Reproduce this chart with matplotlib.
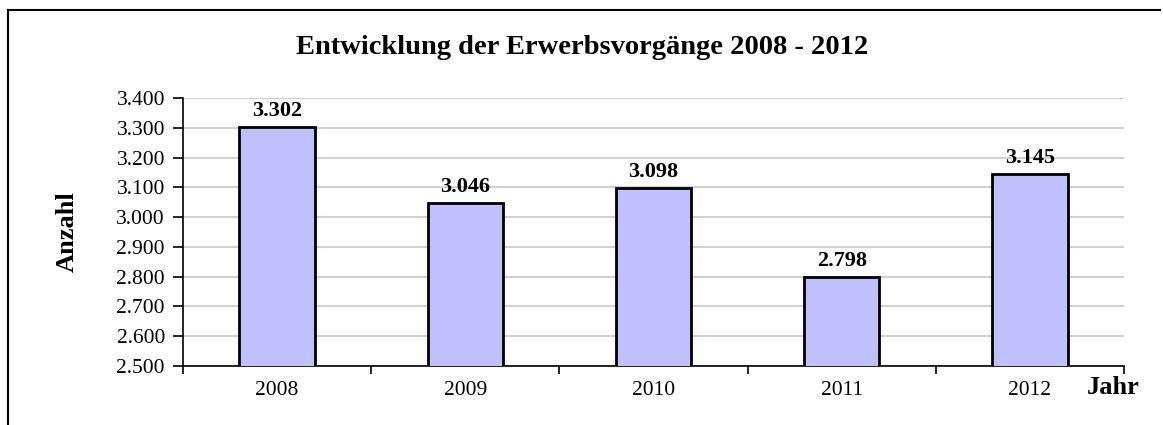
import matplotlib.pyplot as plt
import numpy as np

years = ['2008', '2009', '2010', '2011', '2012']
counts = [3302, 3046, 3098, 2798, 3145]
y_ticks = [2500, 2600, 2700, 2800, 2900, 3000, 3100, 3200, 3300, 3400]


def de_fmt(v):
    # German thousands separator
    return f"{v:,}".replace(',', '.')


plt.rcParams['font.family'] = ['Liberation Serif', 'DejaVu Serif']

fig = plt.figure(figsize=(11.63, 4.25), dpi=100)
ax = fig.add_axes([183 / 1163, 59 / 425, 941 / 1163, 268 / 425])

x = np.arange(len(years))
ax.bar(x, counts, width=0.4, bottom=0, color='#c0c0ff',
       edgecolor='black', linewidth=2, zorder=3)

for xi, v in zip(x, counts):
    ax.text(xi, v + 20, de_fmt(v), ha='center', va='bottom',
            fontsize=16, fontweight='bold', zorder=4)

ax.set_xlim(-0.5, len(years) - 0.5)
ax.set_ylim(2500, 3400)
ax.set_yticks(y_ticks)
ax.set_yticklabels([de_fmt(v) for v in y_ticks], fontsize=15.5)

# category labels between tick marks at the boundaries
ax.set_xticks(np.arange(len(years) + 1) - 0.5)
ax.set_xticklabels([])
ax.set_xticks(x, minor=True)
ax.set_xticklabels(years, minor=True, fontsize=15.5)
ax.tick_params(axis='x', which='minor', length=0, pad=11)
ax.tick_params(axis='x', which='major', length=6, width=1.2, direction='out')
ax.tick_params(axis='y', length=7, width=1.2, direction='out', pad=6)

ax.grid(axis='y', color='#d0d0d0', linewidth=1.5, zorder=0)
for s in ['top', 'right']:
    ax.spines[s].set_visible(False)
for s in ['left', 'bottom']:
    ax.spines[s].set_linewidth(1.2)

ax.set_ylabel('Anzahl', fontsize=19, fontweight='bold')
ax.yaxis.set_label_coords(-0.111, 0.5)
ax.text(0.961, -0.082, 'Jahr', transform=ax.transAxes, ha='left',
        va='center', fontsize=19, fontweight='bold')

fig.text(582 / 1163, 1 - 47 / 425, 'Entwicklung der Erwerbsvorgänge 2008 - 2012',
         ha='center', va='center', fontsize=20.5, fontweight='bold')

# frame lines on left and top edges
fig.add_artist(plt.Line2D([8 / 1163, 8 / 1163], [0, 1 - 10 / 425],
                          color='black', linewidth=1.5))
fig.add_artist(plt.Line2D([8 / 1163, 1160 / 1163], [1 - 10 / 425, 1 - 10 / 425],
                          color='black', linewidth=1.5))

fig.savefig('out.png', dpi=100)
